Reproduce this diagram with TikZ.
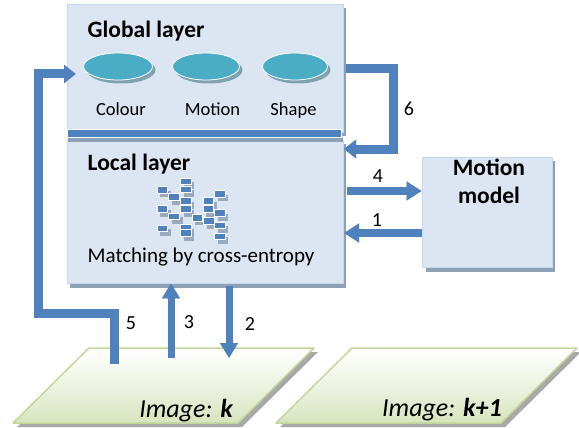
\documentclass[tikz,border=0pt]{standalone}
\usepackage{fontspec}
\setmainfont{Carlito}
\usetikzlibrary{arrows.meta,calc,shapes.geometric}
\definecolor{boxfill}{HTML}{DCE6F2}
\definecolor{boxline}{HTML}{C6D9F1}
\definecolor{boxshadow}{HTML}{8DA0B4}
\definecolor{arrblue}{HTML}{4F81BD}
\definecolor{arrshadow}{HTML}{8A9BB0}
\definecolor{ellfill}{HTML}{4BACC6}
\definecolor{ellshadow}{HTML}{7FA3AE}
\definecolor{grline}{HTML}{C3D69B}
\definecolor{grfill}{HTML}{D7E4BD}
\definecolor{parshadow}{HTML}{A8A8A8}
\tikzset{
  layerbox/.style={draw=boxline, line width=0.8pt, fill=boxfill, rectangle, inner sep=0pt},
  ellbox/.style={ellipse, draw=white, line width=0.8pt, fill=ellfill, inner sep=0pt, minimum width=69pt, minimum height=27pt},
  ellshade/.style={ellipse, fill=ellshadow, inner sep=0pt, minimum width=69pt, minimum height=27pt},
  tinybox/.style={draw=white, line width=0.4pt, fill=arrblue, minimum width=10.5pt, minimum height=6.7pt, inner sep=0pt, anchor=north west},
  tinyshade/.style={fill=arrshadow, opacity=0.8, minimum width=10.5pt, minimum height=6.7pt, inner sep=0pt, anchor=north west},
  titletext/.style={font=\fontsize{23.5}{28}\selectfont\bfseries, inner sep=0pt},
  lbltext/.style={font=\fontsize{18.5}{22}\selectfont, inner sep=0pt, anchor=base},
  numtext/.style={font=\fontsize{20}{24}\selectfont, inner sep=0pt, anchor=base},
  imgtext/.style={font=\fontsize{26}{30}\selectfont\itshape, inner sep=0pt, anchor=base east},
  blk/.style={draw=arrblue, line width=8pt, -{Triangle[width=18pt,length=15pt]}},
  blkshade/.style={draw=arrshadow, line width=8pt, -{Triangle[width=18pt,length=15pt]}, xshift=2.5pt, yshift=-3pt},
  thinblk/.style={draw=arrblue, line width=7pt, -{Triangle[width=17pt,length=15pt]}},
  thinshade/.style={draw=arrshadow, line width=7pt, -{Triangle[width=17pt,length=15pt]}, xshift=2.5pt, yshift=-3pt},
  pipe/.style={draw=arrblue, line width=9pt, -{Triangle[width=18pt,length=12pt]}},
  pipeshade/.style={draw=arrshadow, line width=9pt, -{Triangle[width=18pt,length=12pt]}, xshift=2pt, yshift=-3pt},
}
\begin{document}
\begin{tikzpicture}[x=1pt,y=-1pt]
\useasboundingbox (0,0) rectangle (579,428);
% shadows of boxes
\fill[boxshadow] (70,8) rectangle (346,136);
\fill[boxshadow] (70,144) rectangle (346,288);
\fill[boxshadow] (426,161) rectangle (555,272);
% global layer box
\node[layerbox, minimum width=276pt, minimum height=128pt] (global) at (205,68) {};
% local layer box
\node[layerbox, minimum width=276pt, minimum height=143pt] (local) at (205,211.5) {};
% divider bar
\fill[boxshadow] (68,137) rectangle (343,142);
\node[fill=arrblue, draw=white, line width=0.5pt, minimum width=274pt, minimum height=8pt, inner sep=0pt] (bar) at (204,133) {};
% motion model box
\node[layerbox, minimum width=130pt, minimum height=110pt] (motion) at (487,212) {};
\node[titletext, align=center, anchor=base] (mmtext) at (489,203.3) {\fontsize{23.5}{33.5}\selectfont Motion\\model};
% titles
\node[titletext, anchor=base west] (gtitle) at (87.5,37.3) {Global layer};
\node[titletext, anchor=base west] (ltitle) at (87.5,170) {Local layer};
\node[font=\fontsize{21}{25}\selectfont, inner sep=0pt, anchor=base west] (match) at (87.5,262.7) {Matching by cross-entropy};
% ellipses
\node[ellshade] (sh1) at (121,70) {};
\node[ellbox] (colour) at (118,66.5) {};
\node[ellshade, minimum width=67pt] (sh2) at (209,70) {};
\node[ellbox, minimum width=67pt] (motioncue) at (206,66.5) {};
\node[ellshade, minimum width=65pt] (sh3) at (298,70) {};
\node[ellbox, minimum width=65pt] (shape) at (295,66.5) {};
\node[lbltext] (colourlbl) at (121,115) {Colour};
\node[lbltext] (motionlbl) at (212.5,115) {Motion};
\node[lbltext] (shapelbl) at (293.5,115) {Shape};
% cluster of small rectangles
\foreach \px/\py [count=\i] in {156.7/186, 180/177.7, 180/185.7, 168.3/193.3, 180/197.3, 202.7/197.3, 214/190,
  156.7/205.3, 180/205.3, 168.3/212.7, 191.7/214, 202.7/205.3, 214/209.3, 203.3/217.3, 214/221.7,
  156.7/224.7, 180/224, 180/229.3, 214/232.7}{
  \node[tinyshade] (ts\i) at (\px+3.5,\py+4.5) {};
}
\foreach \px/\py [count=\i] in {156.7/186, 180/177.7, 180/185.7, 168.3/193.3, 180/197.3, 202.7/197.3, 214/190,
  156.7/205.3, 180/205.3, 168.3/212.7, 191.7/214, 202.7/205.3, 214/209.3, 203.3/217.3, 214/221.7,
  156.7/224.7, 180/224, 180/229.3, 214/232.7}{
  \node[tinybox] (tb\i) at (\px,\py) {};
}
% image planes
\fill[parshadow] (93,352) -- (318,352) -- (242,427) -- (17,427) -- cycle;
\fill[parshadow] (356,352) -- (581,352) -- (505,427) -- (280,427) -- cycle;
\shade[top color=white, bottom color=grfill, middle color=white!55!grfill] (89,348) -- (314,348) -- (238,423) -- (13,423) -- cycle;
\draw[grline, line width=1.5pt, line join=round] (89,348) -- (314,348) -- (238,423) -- (13,423) -- cycle;
\shade[top color=white, bottom color=grfill, middle color=white!55!grfill] (352,348) -- (577,348) -- (501,423) -- (276,423) -- cycle;
\draw[grline, line width=1.5pt, line join=round] (352,348) -- (577,348) -- (501,423) -- (276,423) -- cycle;
\node[imgtext] (imgk) at (233,417) {Image: \textbf{k}};
\node[imgtext] (imgk1) at (502,416) {Image: \textbf{k+1}};
% connector coordinates
\coordinate (a6s) at (346,69);
\coordinate (a6c1) at (393,69);
\coordinate (a6c2) at (393,149);
\coordinate (a6e) at (344,149);
\coordinate (a4s) at (347,191);
\coordinate (a1e) at (344,233);
\coordinate (a5s) at (114.5,364);
\coordinate (a5c1) at (114.5,313);
\coordinate (a5c2) at (38,313);
\coordinate (a5c3) at (38,74);
\coordinate (a5e) at (76,74);
\coordinate (a3s) at (171,358);
\coordinate (a2e) at (229,358);
% arrow shadows
\draw[pipeshade] (a6c2) -- (a6e);
\draw[blkshade] (a4s) -- (motion.west |- a4s);
\draw[blkshade] (motion.west |- a1e) -- (a1e);
\draw[thinshade] (a3s) -- (a3s |- local.south);
\draw[thinshade] ([yshift=-3pt]a2e |- local.south) -- (a2e);
% arrows
\draw[pipe, line join=miter] (a6s) -- (a6c1) -- (a6c2) -- (a6e);
\draw[blk] (a4s) -- (motion.west |- a4s);
\draw[blk] (motion.west |- a1e) -- (a1e);
\draw[thinblk] (a3s) -- (a3s |- local.south);
\draw[thinblk] ([yshift=-3pt]a2e |- local.south) -- (a2e);
\draw[pipe, line join=miter] (a5s) -- (a5c1) -- (a5c2) -- (a5c3) -- (a5e);
% labels
\node[numtext] (n6) at (409,115) {6};
\node[numtext] (n4) at (378,182.7) {4};
\node[numtext] (n1) at (377,226.7) {1};
\node[numtext] (n5) at (131,329.3) {5};
\node[numtext] (n3) at (189,328.3) {3};
\node[numtext] (n2) at (250,330) {2};
\end{tikzpicture}
\end{document}
